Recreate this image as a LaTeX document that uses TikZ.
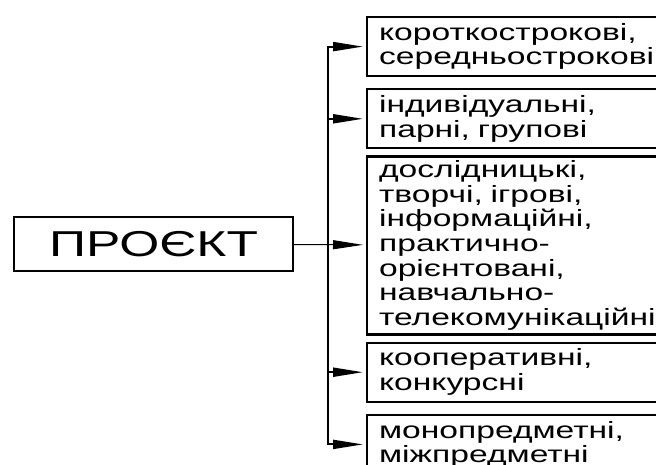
\documentclass[tikz,border=0pt]{standalone}
\usepackage{fontspec}
\setmainfont{Liberation Sans}[FakeStretch=1.43]
\usetikzlibrary{
arrows.meta,
positioning
}

\begin{document}
\begin{tikzpicture}[
    x=1pt, y=-1pt,
    >={Triangle[length=30pt,width=9pt]},
    box/.style={draw, line width=2.2pt, align=left, text width=300pt,
      inner xsep=12pt, minimum height=59pt,
      font=\fontsize{23.5}{24.6}\selectfont},
    link/.style={->, line width=2pt, shorten >=3pt},
    bus/.style={line width=2pt, line cap=rect}
  ]
  \useasboundingbox (0,0) rectangle (656,464);

  \node[draw, line width=2.2pt, minimum width=279pt, minimum height=54pt,
    font=\fontsize{36}{40}\selectfont] (P) at (153.5,244) {ПРОЄКТ};

  \node[box, anchor=north west] (A) at (366,16) {короткострокові,\\середньострокові};
  \node[box, below=11pt of A] (B) {індивідуальні,\\парні, групові};
  \node[box, below=6pt of B, minimum height=178pt] (C)
    {дослідницькі,\\творчі, ігрові,\\інформаційні,\\практично-\\орієнтовані,\\навчально-\\телекомунікаційні};
  \node[box, below=6pt of C] (D) {кооперативні,\\конкурсні};
  \node[box, below=11pt of D] (E) {монопредметні,\\міжпредметні};

  \coordinate (S) at (328,0);
	\draw[bus] (A.west -| S) -- (E.west -| S);
	\foreach \n in {A,B,D,E}
	  \draw[link] (\n.west -| S) -- (\n);
	\draw[->, line width=1pt, shorten >=3pt] (P) -- (C);
\end{tikzpicture}
\end{document}
